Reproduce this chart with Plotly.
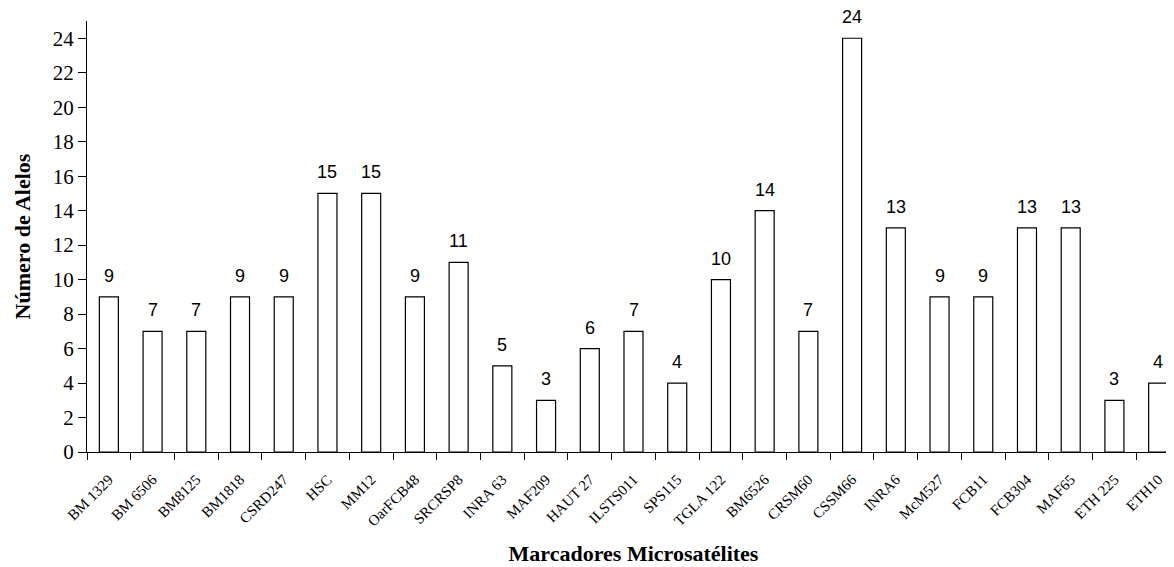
import plotly.graph_objects as go

categories = ["BM 1329", "BM 6506", "BM8125", "BM1818", "CSRD247", "HSC", "MM12", "OarFCB48",
              "SRCRSP8", "INRA 63", "MAF209", "HAUT 27", "ILSTS011", "SPS115", "TGLA 122",
              "BM6526", "CRSM60", "CSSM66", "INRA6", "McM527", "FCB11", "FCB304", "MAF65",
              "ETH 225", "ETH10"]
values = [9, 7, 7, 9, 9, 15, 15, 9, 11, 5, 3, 6, 7, 4, 10, 14, 7, 24, 13, 9, 9, 13, 13, 3, 4]
y_ticks = list(range(0, 25, 2))

fig = go.Figure(go.Bar(
    x=categories, y=values,
    marker=dict(color="white", line=dict(color="black", width=1.2)),
))
for c, v in zip(categories, values):
    fig.add_annotation(x=c, y=v, text=str(v), showarrow=False, yanchor="bottom", yshift=9,
                       font=dict(family="Liberation Sans", size=18, color="black"))
fig.update_layout(
    width=1174, height=567,
    margin=dict(l=79, r=2, t=13, b=123),
    paper_bgcolor="white", plot_bgcolor="white",
    bargap=0.565, showlegend=False,
    font=dict(family="Liberation Serif", color="black"),
)
fig.update_xaxes(
    tickangle=-45, tickfont=dict(family="Liberation Serif", size=15),
    showline=True, linecolor="black", linewidth=1, automargin=False,
    ticks="outside", tickson="boundaries", ticklen=7, tickcolor="black",
    ticklabelstandoff=12,
    showgrid=False,
    title=dict(text="<b>Marcadores Microsatélites</b>", font=dict(size=22), standoff=17),
)
fig.update_yaxes(
    range=[0, 25], tickvals=y_ticks, tickfont=dict(family="Liberation Serif", size=21),
    showline=True, linecolor="black", linewidth=1, automargin=False,
    ticks="outside", ticklen=8, tickcolor="black", showgrid=False, zeroline=False,
    title=dict(text="<b>Número de Alelos</b>", font=dict(size=22), standoff=16),
)
fig.write_html("out.html")
